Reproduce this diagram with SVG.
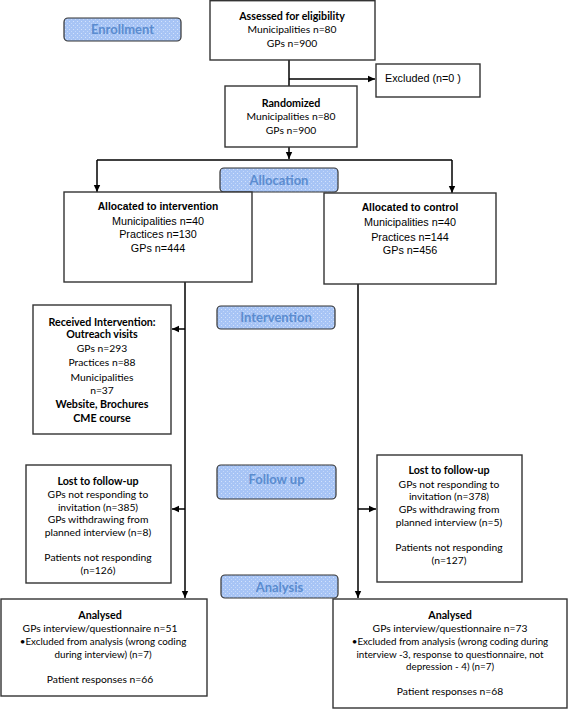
<svg xmlns="http://www.w3.org/2000/svg" width="568" height="710" viewBox="0 0 568 710">
<defs>
<pattern id="dots" width="4" height="4" patternUnits="userSpaceOnUse">
<rect width="4" height="4" fill="#a7c4f5"/>
<rect x="1" y="1" width="1" height="1" fill="#d3e2fb"/>
<rect x="3" y="3" width="1" height="1" fill="#c4d8fa"/>
</pattern>
<marker id="ah" markerWidth="8" markerHeight="8" refX="7" refY="4" orient="auto" markerUnits="userSpaceOnUse">
<path d="M0,0.8 L7,4 L0,7.2 Z" fill="#000"/>
</marker>
</defs>
<style>
.box{fill:#fff;stroke:#333;stroke-width:1.4}
.lab{fill:url(#dots);stroke:#333;stroke-width:1.2}
.lt{font-family:Lato,"Open Sans",sans-serif;font-weight:bold;font-size:13px;fill:#5b8ccf;text-anchor:middle}
.c{font-family:Lato,"Liberation Sans",sans-serif;font-size:10.3px;fill:#000;text-anchor:middle}
.cs{font-family:Lato,"Liberation Sans",sans-serif;font-size:9.8px;fill:#000;text-anchor:middle}
.cb{font-family:Lato,"Liberation Sans",sans-serif;font-size:10.7px;font-weight:bold;fill:#000;text-anchor:middle}
.a{font-family:"Liberation Sans",Arial,sans-serif;font-size:10.8px;fill:#000;text-anchor:middle}
.ab{font-family:"Liberation Sans",Arial,sans-serif;font-size:10.3px;font-weight:bold;fill:#000;text-anchor:middle}
.ln{fill:none;stroke:#000;stroke-width:1.5}
</style>

<g id="connectors">
<path class="ln" d="M289,60 V86"/>
<path class="ln" d="M289,79 H375" marker-end="url(#ah)"/>
<path class="ln" d="M289,147 V159" marker-end="url(#ah)"/>
<path class="ln" d="M97,160 H452"/>
<path class="ln" d="M97,160 V192" marker-end="url(#ah)"/>
<path class="ln" d="M452,160 V193" marker-end="url(#ah)"/>
<path class="ln" d="M185,282 V598" marker-end="url(#ah)"/>
<path class="ln" d="M185,329 H172" marker-end="url(#ah)"/>
<path class="ln" d="M185,509 H172" marker-end="url(#ah)"/>
<path class="ln" d="M358,284 V598" marker-end="url(#ah)"/>
<path class="ln" d="M358,509 H376" marker-end="url(#ah)"/>
</g>

<g id="enrollment">
<rect class="lab" x="64" y="18" width="117" height="23" rx="4"/>
<text class="lt" x="122.5" y="34">Enrollment</text>
</g>
<g id="allocation">
<rect class="lab" x="220" y="168" width="118" height="24" rx="4"/>
<text class="lt" x="279" y="185">Allocation</text>
</g>
<g id="intervention-label">
<rect class="lab" x="217" y="306" width="118" height="23" rx="4"/>
<text class="lt" x="276" y="322">Intervention</text>
</g>
<g id="followup-label">
<rect class="lab" x="217" y="465" width="119" height="34" rx="4"/>
<text class="lt" x="276.5" y="484">Follow up</text>
</g>
<g id="analysis-label">
<rect class="lab" x="221" y="575" width="117" height="23" rx="4"/>
<text class="lt" x="279.5" y="592">Analysis</text>
</g>

<g id="assessed">
<rect class="box" x="210" y="0.7" width="165" height="59.3"/>
<text class="cb" x="292" y="20">Assessed for eligibility</text>
<text class="c" x="292" y="33">Municipalities n=80</text>
<text class="c" x="292" y="47">GPs n=900</text>
</g>

<g id="excluded">
<rect class="box" x="376" y="64" width="104" height="33"/>
<text class="a" x="385" y="82" style="text-anchor:start">Excluded  (n=0 )</text>
</g>

<g id="randomized">
<rect class="box" x="225" y="86" width="132" height="61"/>
<text class="cb" x="291" y="107">Randomized</text>
<text class="c" x="291" y="120">Municipalities n=80</text>
<text class="c" x="291" y="134">GPs n=900</text>
</g>

<g id="alloc-intervention">
<rect class="box" x="64" y="192" width="188" height="90"/>
<text class="ab" x="158" y="210">Allocated to intervention</text>
<text class="a" x="158" y="225">Municipalities n=40</text>
<text class="a" x="158" y="238">Practices n=130</text>
<text class="a" x="158" y="252">GPs n=444</text>
</g>

<g id="alloc-control">
<rect class="box" x="324" y="193" width="172" height="91"/>
<text class="ab" x="410" y="211">Allocated to control</text>
<text class="a" x="410" y="226">Municipalities n=40</text>
<text class="a" x="410" y="241">Practices n=144</text>
<text class="a" x="410" y="254">GPs n=456</text>
</g>

<g id="received">
<rect class="box" x="33" y="305" width="138" height="129"/>
<text class="cb" x="102" y="326">Received Intervention:</text>
<text class="cb" x="102" y="338">Outreach visits</text>
<text class="c" x="102" y="352">GPs n=293</text>
<text class="c" x="102" y="366">Practices n=88</text>
<text class="c" x="102" y="381">Municipalities</text>
<text class="c" x="102" y="394">n=37</text>
<text class="cb" x="102" y="408">Website, Brochures</text>
<text class="cb" x="102" y="422">CME course</text>
</g>

<g id="lost-left">
<rect class="box" x="26" y="465" width="145" height="118"/>
<text class="cb" x="98" y="485">Lost to follow-up</text>
<text class="c" x="98" y="498">GPs not responding to</text>
<text class="c" x="98" y="511">invitation (n=385)</text>
<text class="c" x="98" y="523">GPs withdrawing from</text>
<text class="c" x="98" y="536">planned interview (n=8)</text>
<text class="c" x="98" y="561">Patients not responding</text>
<text class="c" x="98" y="574">(n=126)</text>
</g>

<g id="lost-right">
<rect class="box" x="377" y="455" width="145" height="127"/>
<text class="cb" x="449" y="474">Lost to follow-up</text>
<text class="c" x="449" y="488">GPs not responding to</text>
<text class="c" x="449" y="500">invitation (n=378)</text>
<text class="c" x="449" y="513">GPs withdrawing from</text>
<text class="c" x="449" y="526">planned interview (n=5)</text>
<text class="c" x="449" y="551">Patients not responding</text>
<text class="c" x="449" y="564">(n=127)</text>
</g>

<g id="analysed-left">
<rect class="box" x="1" y="599" width="206" height="97"/>
<text class="cb" x="100" y="619">Analysed</text>
<text class="c" x="100" y="632">GPs interview/questionnaire n=51</text>
<text class="cs" x="103" y="645">•Excluded from analysis (wrong coding</text>
<text class="cs" x="103" y="658">during interview) (n=7)</text>
<text class="c" x="100" y="683">Patient responses n=66</text>
</g>

<g id="analysed-right">
<rect class="box" x="333" y="599" width="234" height="109"/>
<text class="cb" x="450" y="619">Analysed</text>
<text class="c" x="450" y="632">GPs interview/questionnaire n=73</text>
<text class="cs" x="450" y="645">•Excluded from analysis (wrong coding during</text>
<text class="cs" x="450" y="658">interview -3, response to questionnaire, not</text>
<text class="cs" x="450" y="670">depression - 4) (n=7)</text>
<text class="c" x="450" y="695">Patient responses n=68</text>
</g>
</svg>
